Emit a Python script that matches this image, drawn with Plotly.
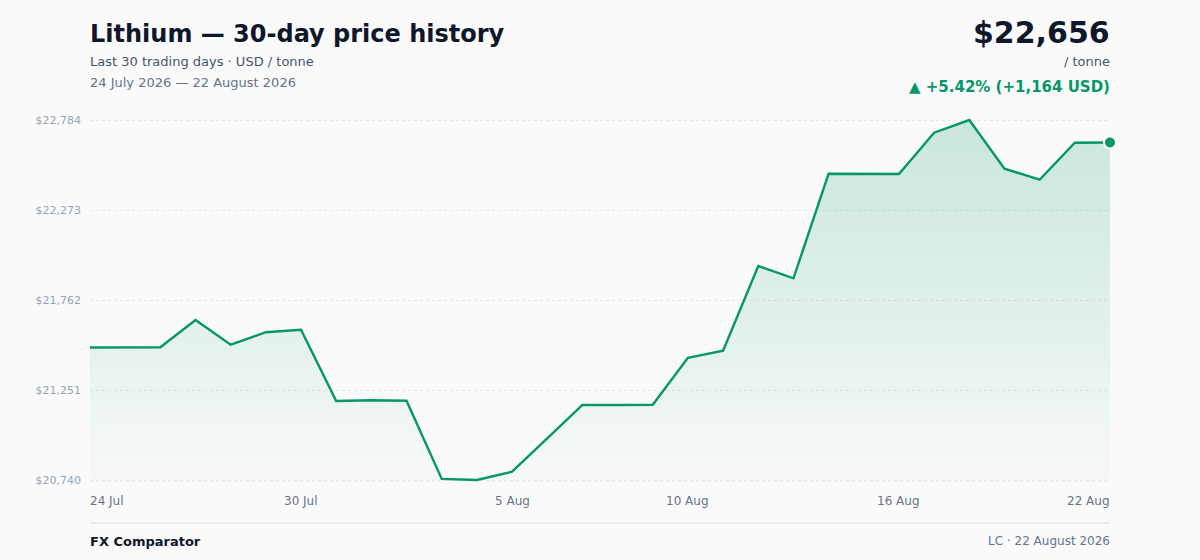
import pandas as pd
import plotly.graph_objects as go

# daily closes, USD / tonne
dates = pd.date_range("2026-07-24", "2026-08-22", freq="D")
prices = [21492, 21494, 21494, 21648, 21508, 21579, 21593, 21189, 21193, 21190,
          20746, 20740, 20787, 20977, 21166, 21166, 21167, 21434, 21474, 21955,
          21885, 22479, 22480, 22477, 22712, 22784, 22508, 22445, 22655, 22656]

y_ticks = [20740, 21251, 21762, 22273, 22784]
x_tick_dates = ["2026-07-24", "2026-07-30", "2026-08-05", "2026-08-10", "2026-08-16", "2026-08-22"]
x_tick_labels = ["24 Jul", "30 Jul", "5 Aug", "10 Aug", "16 Aug", "22 Aug"]

GREEN = "#059669"
BG = "#fafafa"
FONT = "DejaVu Sans"

W, H = 1200, 560
M_L, M_R, M_T, M_B = 90, 90, 117, 77
plot_h = H - M_T - M_B


def py(px):
    # pixel row -> paper y
    return (H - M_B - px) / plot_h


lo, hi = min(prices), max(prices)
pad = (hi - lo) * 3 / 360
last = prices[-1]
diff = prices[-1] - prices[0]
pct = diff / prices[0] * 100

fig = go.Figure()
fig.add_trace(go.Scatter(
    x=dates, y=prices, mode="lines",
    line=dict(color=GREEN, width=2.4),
    fill="tozeroy",
    fillgradient=dict(
        type="vertical",
        start=lo, stop=hi,
        colorscale=[[0, "rgba(5,150,105,0.015)"], [1, "rgba(5,150,105,0.2)"]],
    ),
    hoverinfo="skip",
))
fig.add_trace(go.Scatter(
    x=[dates[-1]], y=[last], mode="markers",
    marker=dict(color=GREEN, size=12, line=dict(color="white", width=2)),
    cliponaxis=False, hoverinfo="skip",
))

annotations = [
    dict(text="<b>Lithium — 30-day price history</b>", x=0, y=py(34), xanchor="left",
         font=dict(size=24, color="#0f172a")),
    dict(text="Last 30 trading days · USD / tonne", x=0, y=py(61), xanchor="left",
         font=dict(size=13, color="#475569")),
    dict(text="24 July 2026 — 22 August 2026", x=0, y=py(83), xanchor="left",
         font=dict(size=13, color="#64748b")),
    dict(text=f"<b>${last:,}</b>", x=1, y=py(32), xanchor="right",
         font=dict(size=30, color="#0f172a")),
    dict(text="/ tonne", x=1, y=py(61), xanchor="right",
         font=dict(size=13, color="#475569")),
    dict(text=f"<b>▲ +{pct:.2f}% (+{diff:,} USD)</b>", x=1, y=py(87), xanchor="right",
         font=dict(size=15, color=GREEN)),
    dict(text="<b>FX Comparator</b>", x=0, y=py(541), xanchor="left",
         font=dict(size=13, color="#0f172a")),
    dict(text="LC · 22 August 2026", x=1, y=py(541), xanchor="right",
         font=dict(size=12, color="#64748b")),
]
for a in annotations:
    a.update(xref="paper", yref="paper", yanchor="middle", showarrow=False)

for i, (d, lab) in enumerate(zip(x_tick_dates, x_tick_labels)):
    anchor = "left" if i == 0 else ("right" if i == len(x_tick_dates) - 1 else "center")
    annotations.append(dict(
        text=lab, x=d, xref="x", y=py(501), yref="paper", xanchor=anchor,
        yanchor="middle", showarrow=False, font=dict(size=12, color="#64748b"),
    ))

# annotation boxes carry ~2px of padding; pull edge-anchored text flush with the plot
for a in annotations:
    if a["xanchor"] == "left":
        a["xshift"] = -2
    elif a["xanchor"] == "right":
        a["xshift"] = 2

fig.update_layout(
    width=W, height=H,
    margin=dict(l=M_L, r=M_R, t=M_T, b=M_B),
    paper_bgcolor=BG, plot_bgcolor=BG,
    font=dict(family=FONT),
    showlegend=False,
    hovermode=False,
    annotations=annotations,
    shapes=[dict(type="line", xref="paper", yref="paper", x0=0, x1=1,
                 y0=py(523), y1=py(523), line=dict(color="#e5e7eb", width=1.5))],
    xaxis=dict(range=[dates[0], dates[-1]], showgrid=False, zeroline=False,
               showline=False, showticklabels=False, fixedrange=True),
    yaxis=dict(range=[lo - pad, hi + pad], tickvals=y_ticks,
               ticktext=[f"${v:,}" for v in y_ticks],
               tickfont=dict(size=11, color="#94a3b8"),
               ticklabelstandoff=8,
               showgrid=True, gridcolor="#e5e7eb", griddash="dot", gridwidth=1,
               zeroline=False, showline=False, fixedrange=True),
)

# drop the default page margin so the figure sits at the window's corner
fig.write_html("out.html", config=dict(displayModeBar=False),
               post_script="document.body.style.margin='0';document.body.style.background='#fafafa';")
